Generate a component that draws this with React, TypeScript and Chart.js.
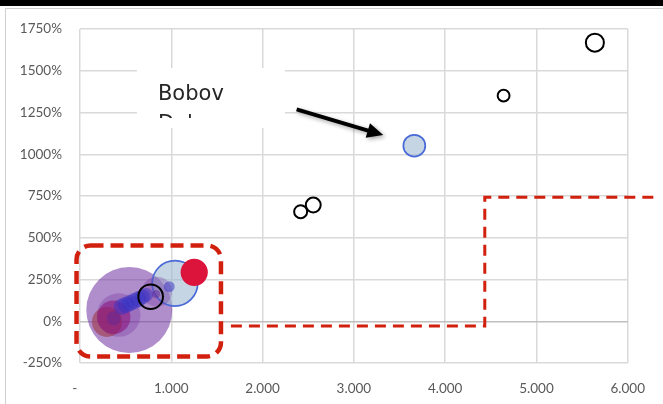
import React, { useEffect, useRef } from "react";
import { Chart, registerables } from "chart.js";

Chart.register(...registerables);

// Open (outline-only) plants
const openX = [5640, 4640, 2417, 2555, 774];
const openY = [1668, 1351, 656, 696, 147];
const openSize = [4.4, 1.9, 2.3, 3.0, 8.2];

// Largest plant, translucent lilac
const lilacX = [540];
const lilacY = [67];
const lilacSize = [100];

// Pale blue plants with blue rim
const paleBlueX = [1040, 3662];
const paleBlueY = [227, 1051];
const paleBlueSize = [28, 6.5];

// Solid crimson plant
const redX = [1251];
const redY = [293];
const redSize = [10];

// Deep blue cluster
const blueX = [978, 460, 505, 550, 595, 640, 685, 725];
const blueY = [207, 88, 98, 109, 121, 133, 146, 158];
const blueSize = [1.6, 3.6, 3.6, 3.6, 3.6, 3.4, 3.0, 2.6];

// Mauve plants
const mauveX = [843, 424];
const mauveY = [177, 37];
const mauveSize = [12.2, 25.5];

// Brown plant
const brownX = [296];
const brownY = [-4];
const brownSize = [12.2];

// Magenta plant
const magentaX = [369];
const magentaY = [24];
const magentaSize = [15.1];

// Small plum plants
const plumX = [369, 832];
const plumY = [18, 163];
const plumSize = [2.6, 0.9];

// Axis ranges and tick steps
const xRange = [0, 6000];
const xStep = 1000;
const yRange = [-250, 1750];
const yStep = 250;

// Annotations, in axis units
const focusBoxX = [-38, 1544];
const focusBoxY = [-211, 454];
const thresholdX = [1653, 4434, 4434, 6329];
const thresholdY = [-28, -28, 742, 742];
const calloutX = [624, 2245];
const calloutY = [1516, 1157];
const calloutLines = ["Bobov", "Dol"];
const arrowX = [2373, 3321];
const arrowY = [1269, 1115];

const BUBBLE_SCALE = 4.3;

function points(xs: number[], ys: number[], sizes: number[]) {
  return xs.map((x, i) => ({ x, y: ys[i], r: BUBBLE_SCALE * Math.sqrt(sizes[i]) }));
}

function thousands(v: number) {
  return Math.round(v)
    .toString()
    .replace(/\B(?=(\d{3})+(?!\d))/g, ".");
}

const RED = "#d2200f";

const decor = {
  id: "decor",
  beforeDraw(chart: any) {
    const { ctx, width, height } = chart;
    ctx.save();
    ctx.fillStyle = "#ffffff";
    ctx.fillRect(0, 0, width, height);
    ctx.strokeStyle = "#d0d0d0";
    ctx.lineWidth = 1;
    ctx.beginPath();
    ctx.moveTo(5.5, height);
    ctx.lineTo(5.5, 8.5);
    ctx.lineTo(width, 8.5);
    ctx.stroke();
    ctx.fillStyle = "#000000";
    ctx.fillRect(0, 0, width, 6);
    ctx.restore();
  },
  beforeDatasetsDraw(chart: any) {
    const { ctx } = chart;
    const xs = chart.scales.x;
    const ys = chart.scales.y;
    const l = xs.getPixelForValue(calloutX[0]);
    const r = xs.getPixelForValue(calloutX[1]);
    const t = ys.getPixelForValue(calloutY[0]);
    const b = ys.getPixelForValue(calloutY[1]);
    ctx.save();
    ctx.fillStyle = "#ffffff";
    ctx.fillRect(l, t, r - l, b - t);
    ctx.beginPath();
    ctx.rect(l, t, r - l, b - t - 10);
    ctx.clip();
    ctx.fillStyle = "#262626";
    ctx.font = '21px "DejaVu Sans"';
    ctx.textBaseline = "alphabetic";
    ctx.textAlign = "left";
    calloutLines.forEach((line, i) => {
      ctx.fillText(line, l + 21, t + 32 + i * 30);
    });
    ctx.restore();
  },
  afterDatasetsDraw(chart: any) {
    const { ctx } = chart;
    const xs = chart.scales.x;
    const ys = chart.scales.y;
    ctx.save();

    // rounded dashed focus box
    const bl = xs.getPixelForValue(focusBoxX[0]);
    const br = xs.getPixelForValue(focusBoxX[1]);
    const bt = ys.getPixelForValue(focusBoxY[1]);
    const bb = ys.getPixelForValue(focusBoxY[0]);
    ctx.strokeStyle = RED;
    ctx.lineWidth = 4.5;
    ctx.setLineDash([13, 7]);
    ctx.beginPath();
    ctx.roundRect(bl, bt, br - bl, bb - bt, 14);
    ctx.stroke();

    // dashed threshold step
    ctx.lineWidth = 3;
    ctx.setLineDash([11, 7]);
    ctx.beginPath();
    thresholdX.forEach((x, i) => {
      const px = xs.getPixelForValue(x);
      const py = ys.getPixelForValue(thresholdY[i]);
      if (i === 0) ctx.moveTo(px, py);
      else ctx.lineTo(px, py);
    });
    ctx.stroke();

    // callout arrow
    ctx.setLineDash([]);
    const x0 = xs.getPixelForValue(arrowX[0]);
    const y0 = ys.getPixelForValue(arrowY[0]);
    const x1 = xs.getPixelForValue(arrowX[1]);
    const y1 = ys.getPixelForValue(arrowY[1]);
    const ang = Math.atan2(y1 - y0, x1 - x0);
    const c = Math.cos(ang);
    const s = Math.sin(ang);
    const headLen = 16;
    const headW = 7.5;
    const hx = x1 - headLen * c;
    const hy = y1 - headLen * s;
    ctx.shadowColor = "rgba(0,0,0,0.35)";
    ctx.shadowBlur = 4;
    ctx.shadowOffsetX = 2;
    ctx.shadowOffsetY = 2;
    ctx.strokeStyle = "#000000";
    ctx.fillStyle = "#000000";
    ctx.lineWidth = 4;
    ctx.beginPath();
    ctx.moveTo(x0, y0);
    ctx.lineTo(hx + 2 * c, hy + 2 * s);
    ctx.stroke();
    ctx.beginPath();
    ctx.moveTo(x1, y1);
    ctx.lineTo(hx + headW * s, hy - headW * c);
    ctx.lineTo(hx - headW * s, hy + headW * c);
    ctx.closePath();
    ctx.fill();
    ctx.restore();
  },
};

export default function App() {
  const ref = useRef<HTMLCanvasElement | null>(null);

  useEffect(() => {
    if (!ref.current) return;
    const tickFont = { family: "Lato", size: 13.5 };
    const chart = new Chart(ref.current, {
      type: "bubble",
      data: {
        datasets: [
          {
            label: "open",
            data: points(openX, openY, openSize),
            backgroundColor: "rgba(255,255,255,0)",
            borderColor: "#000000",
            borderWidth: 2,
            order: 0,
          },
          {
            label: "red",
            data: points(redX, redY, redSize),
            backgroundColor: "#dc143c",
            borderWidth: 0,
            order: 1,
          },
          {
            label: "blue",
            data: points(blueX, blueY, blueSize),
            backgroundColor: "rgba(55,50,195,0.5)",
            borderWidth: 0,
            order: 2,
          },
          {
            label: "plum",
            data: points(plumX, plumY, plumSize),
            backgroundColor: "rgba(100,40,150,0.5)",
            borderWidth: 0,
            order: 3,
          },
          {
            label: "magenta",
            data: points(magentaX, magentaY, magentaSize),
            backgroundColor: "rgba(140,20,125,0.6)",
            borderWidth: 0,
            order: 4,
          },
          {
            label: "brown",
            data: points(brownX, brownY, brownSize),
            backgroundColor: "rgba(160,55,70,0.6)",
            borderWidth: 0,
            order: 5,
          },
          {
            label: "mauve",
            data: points(mauveX, mauveY, mauveSize),
            backgroundColor: "rgba(112,48,160,0.3)",
            borderWidth: 0,
            order: 6,
          },
          {
            label: "paleBlue",
            data: points(paleBlueX, paleBlueY, paleBlueSize),
            backgroundColor: "rgba(160,185,210,0.6)",
            borderColor: "#4a6ad8",
            borderWidth: 1.75,
            order: 7,
          },
          {
            label: "lilac",
            data: points(lilacX, lilacY, lilacSize),
            backgroundColor: "rgba(112,48,160,0.55)",
            borderWidth: 0,
            order: 8,
          },
        ],
      },
      options: {
        responsive: false,
        animation: false,
        devicePixelRatio: 1,
        layout: { autoPadding: false, padding: { top: 29, right: 35, left: 0, bottom: 0 } },
        plugins: {
          legend: { display: false },
          tooltip: { enabled: false },
          title: { display: false },
        },
        scales: {
          x: {
            type: "linear",
            min: xRange[0],
            max: xRange[1],
            border: { display: false },
            grid: { color: "#d9d9d9", lineWidth: 1.5, drawTicks: false },
            ticks: {
              stepSize: xStep,
              padding: 18,
              maxRotation: 0,
              color: "#595959",
              font: tickFont,
              callback: (v: any) => (Number(v) === 0 ? "-   " : thousands(Number(v))),
            },
            afterFit: (scale: any) => {
              scale.height = 41;
            },
          },
          y: {
            type: "linear",
            min: yRange[0],
            max: yRange[1],
            border: { display: false },
            grid: {
              color: (c: any) => (c.tick && c.tick.value === 0 ? "#bfbfbf" : "#d9d9d9"),
              lineWidth: 1.5,
              drawTicks: false,
            },
            ticks: {
              stepSize: yStep,
              padding: 18,
              color: "#595959",
              font: tickFont,
              callback: (v: any) => `${v}%`,
            },
            afterFit: (scale: any) => {
              scale.width = 80;
            },
          },
        },
      },
      plugins: [decor],
    });
    return () => chart.destroy();
  }, []);

  return (
    <div style={{ position: "fixed", left: 0, top: 0, width: 663, height: 404, background: "#fff" }}>
      <canvas ref={ref} width={663} height={404} />
    </div>
  );
}
